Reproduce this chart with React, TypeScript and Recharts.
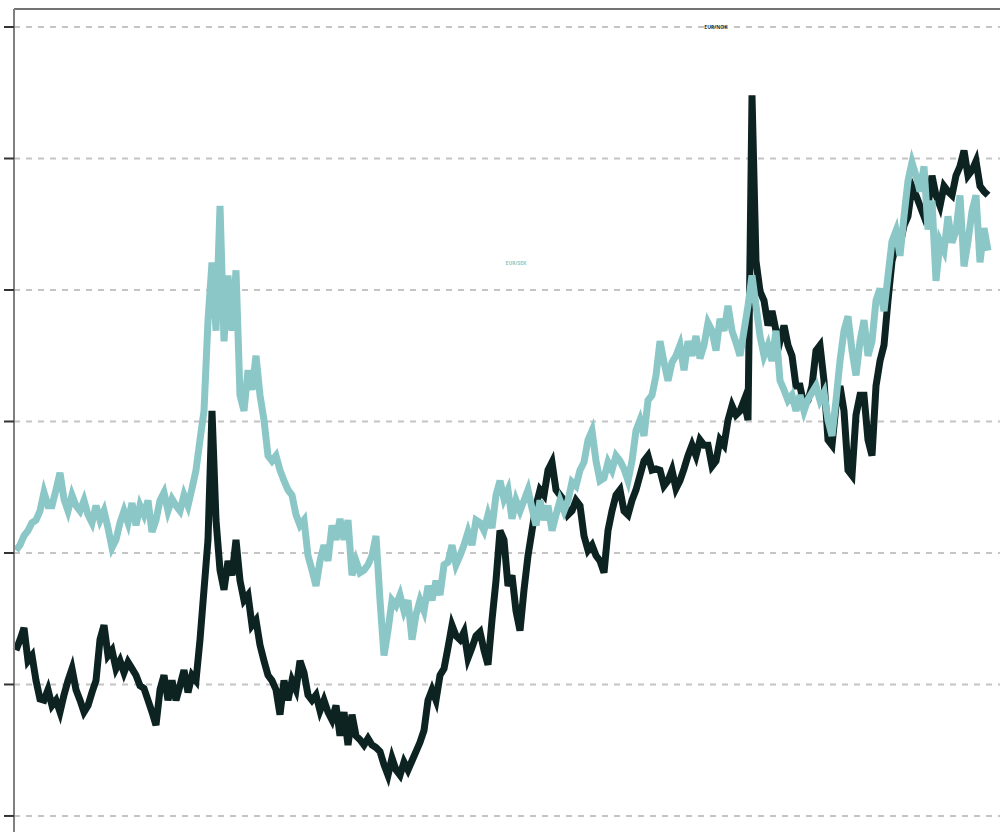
import React from 'react';
import { LineChart, Line, XAxis, YAxis, CartesianGrid, ReferenceDot } from 'recharts';

// EUR/NOK, monthly, Nov 2004 .. Feb 2025
const nokValues: number[] = [
  8.26, 8.34, 8.43, 8.18, 8.22, 8.03, 7.89, 7.88, 7.96, 7.84, 7.88, 7.79, 7.92, 8.03, 8.12, 7.96,
  7.88, 7.79, 7.84, 7.94, 8.03, 8.34, 8.45, 8.22, 8.26, 8.12, 8.18, 8.09, 8.17, 8.12, 8.07, 7.99,
  7.97, 7.88, 7.79, 7.69, 7.96, 8.07, 7.88, 8.03, 7.88, 7.99, 8.11, 7.94, 8.07, 8.03, 8.34, 8.72,
  9.10, 10.08, 9.25, 8.87, 8.72, 8.94, 8.83, 9.10, 8.79, 8.64, 8.68, 8.45, 8.49, 8.30, 8.18, 8.07,
  8.03, 7.96, 7.77, 8.03, 7.88, 8.03, 7.96, 8.18, 8.09, 7.92, 7.88, 7.92, 7.80, 7.88, 7.79, 7.73,
  7.84, 7.61, 7.79, 7.54, 7.77, 7.61, 7.58, 7.54, 7.59, 7.54, 7.52, 7.49, 7.39, 7.31, 7.44, 7.35,
  7.31, 7.41, 7.35, 7.42, 7.49, 7.56, 7.65, 7.88, 7.96, 7.88, 8.07, 8.12, 8.28, 8.45, 8.37, 8.34,
  8.40, 8.20, 8.28, 8.37, 8.40, 8.26, 8.15, 8.49, 8.79, 9.17, 9.10, 8.75, 8.83, 8.56, 8.41, 8.72,
  8.98, 9.17, 9.36, 9.48, 9.44, 9.63, 9.69, 9.48, 9.44, 9.40, 9.29, 9.32, 9.40, 9.36, 9.13, 9.02,
  9.06, 8.98, 8.94, 8.85, 9.17, 9.32, 9.44, 9.48, 9.32, 9.29, 9.40, 9.48, 9.59, 9.70, 9.74, 9.63,
  9.64, 9.63, 9.51, 9.55, 9.63, 9.49, 9.55, 9.64, 9.74, 9.82, 9.74, 9.86, 9.82, 9.82, 9.66, 9.70,
  9.86, 9.82, 10.01, 10.12, 10.05, 10.08, 10.16, 10.01, 12.48, 11.22, 10.99, 10.92, 10.73, 10.84, 10.69, 10.61,
  10.73, 10.58, 10.50, 10.27, 10.27, 10.12, 10.16, 10.27, 10.54, 10.58, 10.31, 9.86, 9.82, 10.12, 10.27, 10.08,
  9.63, 9.59, 10.05, 10.20, 10.20, 9.86, 9.74, 10.27, 10.46, 10.58, 10.92, 11.22, 11.34, 11.34, 11.49, 11.56,
  11.79, 11.72, 11.64, 11.56, 11.64, 11.87, 11.72, 11.64, 11.79, 11.75, 11.72, 11.87, 11.94, 12.06, 11.87, 11.91,
  11.98, 11.79, 11.75, 11.72,
];

// EUR/SEK, same months
const sekValues: number[] = [
  9.02, 9.06, 9.13, 9.17, 9.23, 9.25, 9.32, 9.46, 9.36, 9.36, 9.48, 9.61, 9.41, 9.32, 9.44, 9.36,
  9.32, 9.40, 9.29, 9.23, 9.36, 9.25, 9.32, 9.19, 9.04, 9.10, 9.23, 9.32, 9.23, 9.38, 9.21, 9.36,
  9.29, 9.40, 9.16, 9.25, 9.40, 9.46, 9.32, 9.41, 9.36, 9.32, 9.44, 9.36, 9.49, 9.63, 9.86, 10.08,
  10.77, 11.21, 10.69, 11.64, 10.61, 11.11, 10.69, 11.15, 10.20, 10.08, 10.39, 10.24, 10.50, 10.20, 10.01, 9.74,
  9.70, 9.74, 9.63, 9.55, 9.48, 9.44, 9.29, 9.21, 9.25, 8.98, 8.87, 8.75, 8.94, 9.06, 8.94, 9.21,
  9.10, 9.26, 9.10, 9.25, 8.83, 8.94, 8.85, 8.87, 8.91, 8.98, 9.13, 8.64, 8.22, 8.41, 8.64, 8.60,
  8.68, 8.56, 8.64, 8.34, 8.53, 8.64, 8.56, 8.75, 8.64, 8.79, 8.68, 8.91, 8.93, 9.06, 8.91, 8.98,
  9.06, 9.16, 9.06, 9.25, 9.23, 9.17, 9.29, 9.19, 9.44, 9.55, 9.41, 9.48, 9.26, 9.40, 9.32, 9.40,
  9.48, 9.34, 9.21, 9.40, 9.25, 9.36, 9.17, 9.29, 9.40, 9.32, 9.40, 9.54, 9.51, 9.63, 9.69, 9.86,
  9.93, 9.70, 9.55, 9.57, 9.69, 9.63, 9.74, 9.70, 9.64, 9.55, 9.70, 9.93, 10.01, 9.89, 10.16, 10.20,
  10.35, 10.61, 10.45, 10.31, 10.45, 10.50, 10.58, 10.39, 10.61, 10.50, 10.65, 10.48, 10.58, 10.75, 10.69, 10.54,
  10.78, 10.69, 10.88, 10.69, 10.60, 10.50, 10.69, 10.88, 11.11, 10.88, 10.65, 10.50, 10.58, 10.46, 10.69, 10.31,
  10.24, 10.16, 10.20, 10.08, 10.20, 10.08, 10.17, 10.22, 10.27, 10.16, 10.22, 10.01, 9.89, 10.16, 10.46, 10.69,
  10.80, 10.54, 10.35, 10.61, 10.77, 10.50, 10.61, 10.92, 11.01, 10.84, 11.11, 11.37, 11.45, 11.26, 11.56, 11.83,
  11.97, 11.87, 11.75, 11.94, 11.46, 11.68, 11.07, 11.37, 11.30, 11.56, 11.36, 11.45, 11.72, 11.18, 11.37, 11.60,
  11.72, 11.21, 11.47, 11.30,
];

const yTicks: number[] = [7, 8, 9, 10, 11, 12, 13];

// month category labels
const months: string[] = [];
for (let i = 0; i < nokValues.length; i++) {
  const m = 10 + i; // Nov 2004 = month index 10 of 2004
  const yr = 2004 + Math.floor(m / 12);
  const mo = (m % 12) + 1;
  months.push(`${yr}-${mo < 10 ? '0' + mo : mo}`);
}

const data = months.map((month, i) => ({ month, nok: nokValues[i], sek: sekValues[i] }));

const NOK_COLOR = '#0c2322';
const SEK_COLOR = '#8cc7c7';

const emptyLabel = () => '';

export default function App() {
  return (
    <div style={{ position: 'absolute', left: 0, top: 0, width: 1000, height: 832, background: '#fff' }}>
      <LineChart width={1000} height={832} data={data} margin={{ top: 8, right: 0, bottom: 0, left: 0 }}>
        <CartesianGrid
          vertical={false}
          horizontalValues={yTicks}
          stroke="#c4c4c4"
          strokeWidth={2}
          strokeDasharray="6 6"
        />
        <XAxis
          dataKey="month"
          orientation="top"
          height={1}
          tickFormatter={emptyLabel}
          tickLine={false}
          axisLine={{ stroke: '#444', strokeWidth: 1.5 }}
          padding={{ left: 2, right: 12 }}
        />
        <YAxis
          width={14}
          type="number"
          domain={[6.878, 13.137]}
          ticks={yTicks}
          interval={0}
          tickFormatter={emptyLabel}
          tickSize={10}
          tickLine={{ stroke: '#333', strokeWidth: 2 }}
          axisLine={{ stroke: '#808080', strokeWidth: 2 }}
          allowDataOverflow
        />
        <Line
          type="linear"
          dataKey="nok"
          stroke={NOK_COLOR}
          strokeWidth={7}
          dot={false}
          activeDot={false}
          isAnimationActive={false}
        />
        <Line
          type="linear"
          dataKey="sek"
          stroke={SEK_COLOR}
          strokeWidth={7}
          dot={false}
          activeDot={false}
          isAnimationActive={false}
        />
        <ReferenceDot
          x={months[175]}
          y={13.0}
          r={0}
          fill="none"
          stroke="none"
          label={{ value: 'EUR/NOK', position: 'center', fill: '#1d3030', fontSize: 5, fontWeight: 'bold', fontFamily: 'Open Sans, sans-serif' }}
        />
        <ReferenceDot
          x={months[125]}
          y={11.2}
          r={0}
          fill="none"
          stroke="none"
          label={{ value: 'EUR/SEK', position: 'center', fill: SEK_COLOR, fontSize: 5, fontWeight: 'bold', fontFamily: 'Open Sans, sans-serif' }}
        />
      </LineChart>
    </div>
  );
}
